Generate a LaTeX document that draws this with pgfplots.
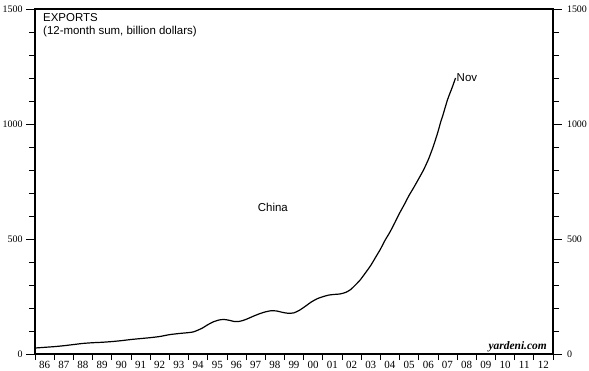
\documentclass[border=0pt]{standalone}
\usepackage{fontspec}
\setmainfont{Liberation Sans}
\newfontfamily\tickserif{Liberation Serif}
\usepackage{pgfplots}
\pgfplotsset{compat=1.18}
\pgfplotstableread{
x y
1986.0 26
1986.5 29
1987.0 32
1987.5 36
1988.0 41
1988.5 46
1989.0 49
1989.5 51
1990.0 54
1990.5 58
1991.0 63
1991.5 67
1992.0 71
1992.5 76
1993.0 84
1993.5 89
1994.0 93
1994.25 96
1994.5 104
1994.75 114
1995.0 127
1995.3 140
1995.6 148
1995.85 150
1996.1 147
1996.4 141
1996.6 141
1996.85 146
1997.1 154
1997.4 165
1997.7 175
1998.0 183
1998.3 188
1998.6 187
1998.9 181
1999.2 177
1999.5 179
1999.8 191
2000.1 208
2000.4 226
2000.7 240
2001.0 249
2001.3 256
2001.6 259
2001.9 261
2002.2 268
2002.45 280
2002.7 300
2002.95 322
2003.2 350
2003.5 385
2003.75 420
2004.0 455
2004.25 495
2004.5 530
2004.75 570
2005.0 612
2005.25 650
2005.5 690
2005.75 725
2006.0 762
2006.25 800
2006.5 845
2006.75 900
2007.0 965
2007.15 1010
2007.25 1035
2007.5 1105
2007.75 1160
2007.92 1200
}\exports
\begin{document}
\begin{tikzpicture}
\begin{axis}[
  scale only axis, width=518bp, height=345bp,
  xmin=1986, xmax=2013, ymin=0, ymax=1500,
  axis line style={line width=2.5bp},
  tick align=outside,
  ytick={0,500,1000,1500},
  minor ytick={100,200,300,400,600,700,800,900,1100,1200,1300,1400},
  ytick pos=both,
  xtick pos=bottom,
  major tick length=9bp, minor tick length=6bp,
  tick style={black, line width=0.6bp},
  xtick={1986.5,1987.5,...,2012.5},
  xticklabels={86,87,88,89,90,91,92,93,94,95,96,97,98,99,00,01,02,03,04,05,06,07,08,09,10,11,12},
  minor xtick={1986,1987,...,2013},
  major x tick style={draw=none},
  /pgf/number format/assume math mode=true,
  xticklabel style={font=\tickserif\fontsize{11}{13}\selectfont, yshift=5bp},
  yticklabel style={font=\tickserif\fontsize{10}{12}\selectfont, /pgf/number format/1000 sep={}},
  clip=false,
]
\addplot[black, line width=1.2bp, smooth, tension=0.4] table[x=x,y=y]{\exports};
\node[anchor=west, font=\fontsize{11.5}{13}\selectfont, inner sep=1bp] at (axis cs:2007.92,1200) {Nov};
\node[font=\fontsize{11.5}{13}\selectfont] at (axis cs:1998.4,639) {China};
\node[anchor=north west, align=left, font=\fontsize{11.5}{13}\selectfont, inner sep=0pt] at ([xshift=8bp,yshift=-4bp]rel axis cs:0,1) {EXPORTS\\(12-month sum, billion dollars)};
\node[anchor=base east, font=\tickserif\bfseries\itshape\fontsize{11.5}{13}\selectfont, inner sep=0pt] at ([xshift=-6bp,yshift=5bp]rel axis cs:1,0) {yardeni.com};
\coordinate (A) at (rel axis cs:0,0);
\end{axis}
\begin{axis}[
  scale only axis, width=518bp, height=345bp,
  xmin=1986, xmax=2013, ymin=0, ymax=1500,
  hide x axis, axis y line*=right,
  axis line style={line width=2.5bp},
  tick align=outside, major tick length=9bp,
  ytick={0,500,1000,1500}, minor ytick={},
  ytick style={draw=none},
  /pgf/number format/assume math mode=true,
  yticklabel style={font=\tickserif\fontsize{10}{12}\selectfont, /pgf/number format/1000 sep={}, xshift=1.5bp},
]
\addplot[draw=none] coordinates {(1986,0)};
\end{axis}
\pgfresetboundingbox
\path[use as bounding box] (A) ++(-35bp,-17bp) rectangle ++(589bp,371bp);
\end{tikzpicture}
\end{document}
